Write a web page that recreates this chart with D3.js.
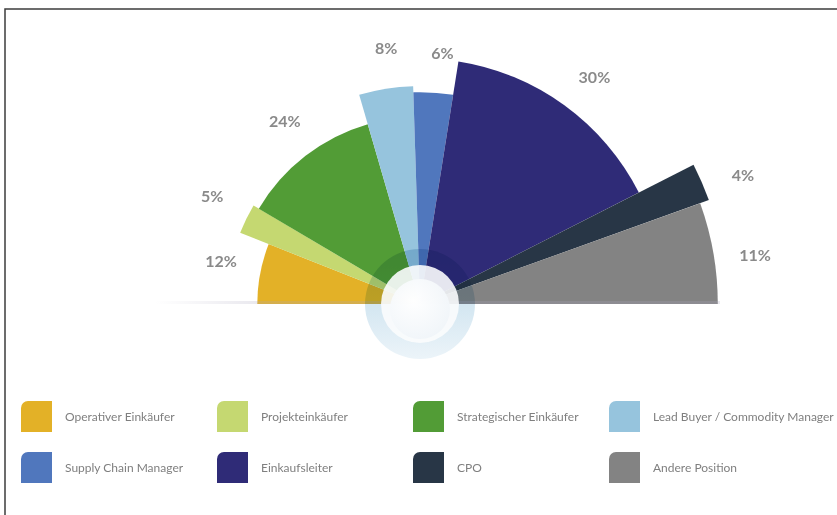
<!DOCTYPE html>
<html>
<head>
<meta charset="utf-8">
<script src="https://cdn.jsdelivr.net/npm/d3@7"></script>
<style>
  body { margin: 0; background: #fff; }
  svg { display: block; font-family: Lato, "Open Sans", sans-serif; }
</style>
</head>
<body>
<svg id="chart" width="837" height="515"></svg>
<script>
// the data
let categories = ['Operativer Einkäufer', 'Projekteinkäufer', 'Strategischer Einkäufer', 'Lead Buyer / Commodity Manager',
                  'Supply Chain Manager', 'Einkaufsleiter', 'CPO', 'Andere Position'];
let shares = [12, 5, 24, 8, 6, 30, 4, 11];
// how far each slice reaches out (relative to the longest one)
let reach = [0.53, 0.63, 0.61, 0.71, 0.69, 0.80, 1.00, 0.97];
let colors = ['#e3b127', '#c5d871', '#529c36', '#96c4dd', '#5077bd', '#2f2b77', '#283646', '#838383'];

let width = 837, height = 515;
let cx = 420, cy = 304;

let svg = d3.select('svg#chart');
let defs = svg.append('defs');

// frame lines top and left
svg.append('path')
  .attr('d', `M5,${height} V9 H${width}`)
  .attr('fill', 'none')
  .attr('stroke', '#3c3c3c')
  .attr('stroke-width', 1.5);

let rScale = d3.scaleLinear().domain([0, 1]).range([0, 307]);

let pie = d3.pie()
  .sort(null)
  .startAngle(-Math.PI / 2)
  .endAngle(Math.PI / 2);

let slices = pie(shares);

let arc = d3.arc()
  .innerRadius(0)
  .outerRadius(d => rScale(reach[d.index]));

let chart = svg.append('g')
  .attr('transform', `translate(${cx}, ${cy})`);

// floor shadow under the slices
let shadowGrad = defs.append('linearGradient')
  .attr('id', 'floor')
  .attr('x1', 0).attr('x2', 1).attr('y1', 0).attr('y2', 0);
shadowGrad.append('stop').attr('offset', 0).attr('stop-color', '#aaa6bd').attr('stop-opacity', 0);
shadowGrad.append('stop').attr('offset', 0.18).attr('stop-color', '#aaa6bd').attr('stop-opacity', 0.5);
shadowGrad.append('stop').attr('offset', 1).attr('stop-color', '#aaa6bd').attr('stop-opacity', 0.5);

chart.selectAll('path.slice')
  .data(slices)
  .enter()
  .append('path')
  .attr('class', 'slice')
  .attr('d', arc)
  .attr('fill', d => colors[d.index]);

chart.append('rect')
  .attr('x', 155 - cx)
  .attr('y', -3)
  .attr('width', 720 - 155)
  .attr('height', 3)
  .attr('fill', 'url(#floor)')
  .attr('opacity', 0.5);

chart.append('line')
  .attr('x1', 155 - cx).attr('x2', 718 - cx)
  .attr('y1', 0.5).attr('y2', 0.5)
  .attr('stroke', 'url(#floor)')
  .attr('stroke-width', 1);

// center decoration
let ringGrad = defs.append('linearGradient')
  .attr('id', 'ring')
  .attr('x1', 0).attr('x2', 0).attr('y1', 0).attr('y2', 1);
ringGrad.append('stop').attr('offset', 0).attr('stop-color', '#c6dcea');
ringGrad.append('stop').attr('offset', 0.5).attr('stop-color', '#d3e6f1');
ringGrad.append('stop').attr('offset', 1).attr('stop-color', '#ecf4f9');

chart.append('circle')
  .attr('r', 55)
  .attr('fill', 'url(#ring)')
  .style('mix-blend-mode', 'multiply');

let discGrad = defs.append('radialGradient')
  .attr('id', 'disc')
  .attr('cx', 0.4).attr('cy', 0.35).attr('r', 0.7);
discGrad.append('stop').attr('offset', 0).attr('stop-color', '#ffffff');
discGrad.append('stop').attr('offset', 1).attr('stop-color', '#f0f5f9');

chart.append('circle')
  .attr('r', 39)
  .attr('fill', '#fbfcfd')
  .attr('opacity', 0.9);

chart.append('circle')
  .attr('cy', 5)
  .attr('r', 30)
  .attr('fill', 'url(#disc)')
  .attr('opacity', 0.95);

// percent labels, a bit outside each slice
let labelPos = d => {
  let mid = (d.startAngle + d.endAngle) / 2 + 0.026;
  let r = rScale(reach[d.index]) + 41;
  return [r * Math.sin(mid), -r * Math.cos(mid)];
};

chart.selectAll('text.value')
  .data(slices)
  .enter()
  .append('text')
  .attr('class', 'value')
  .attr('x', d => labelPos(d)[0])
  .attr('y', d => labelPos(d)[1])
  .attr('text-anchor', 'middle')
  .attr('dominant-baseline', 'central')
  .attr('fill', '#8a8a8a')
  .attr('font-size', 16)
  .attr('font-weight', 'bold')
  .text(d => `${d.data}%`);

// legend, 2 rows of 4
let legend = svg.append('g').attr('class', 'legend');
let colX = d => 21 + (d % 4) * 196;
let rowY = d => 401 + Math.floor(d / 4) * 51;
let sw = 31, rr = 7;

let items = legend.selectAll('g')
  .data(categories)
  .enter()
  .append('g')
  .attr('transform', (d, i) => `translate(${colX(i)}, ${rowY(i)})`);

items.append('path')
  .attr('d', `M0,${rr} A${rr},${rr} 0 0 1 ${rr},0 H${sw} V${sw} H0 Z`)
  .attr('fill', (d, i) => colors[i]);

items.append('text')
  .attr('x', 44)
  .attr('y', sw / 2)
  .attr('dominant-baseline', 'central')
  .attr('fill', '#7f7f7f')
  .attr('font-size', 12)
  .text(d => d);
</script>
</body>
</html>
